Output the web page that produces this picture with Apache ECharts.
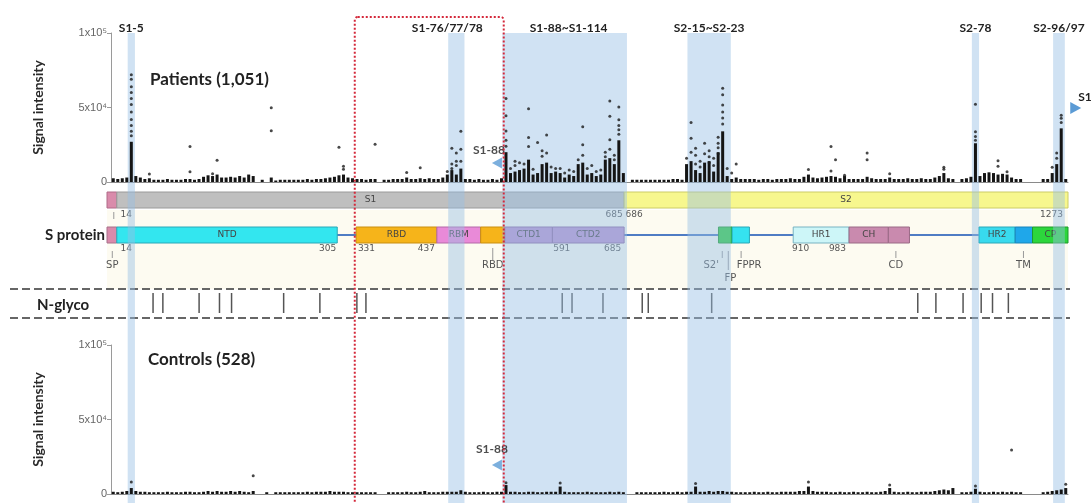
<!DOCTYPE html>
<html><head><meta charset="utf-8">
<script src="https://cdn.jsdelivr.net/npm/echarts@6/dist/echarts.min.js"></script>
<style>html,body{margin:0;padding:0;background:#fff}#c{width:1091px;height:503px}</style>
</head><body><div id="c"></div>
<script>
// ---------------- DATA ----------------
const s1Count = 114, s2Count = 98;
const categories = [];
for (let i = 1; i <= s1Count; i++) categories.push('S1-' + i);
for (let i = 1; i <= s2Count; i++) categories.push('S2-' + i);

const yTickLabels = {0: '0', 50000: '5x10⁴', 100000: '1x10⁵'};

// dense column height per peptide (patients)
const patientStack = [
 2500,2000,2500,3000,27000,4000,3000,2000,2500,1500,
 1500,1500,2000,1500,1500,1500,2000,2000,1500,2000,
 3500,4500,4000,5000,3000,3000,3500,3000,4000,3000,
 5000,4000,0,1500,0,3000,1000,1500,1500,1500,
 1500,1500,1500,2000,1500,2000,2000,2500,3000,3500,
 4500,5000,3000,2500,2000,2000,1500,2000,2000,0,
 1500,1500,2000,2000,2000,3000,2000,2000,2500,2000,
 2500,2000,2000,3000,5000,8000,5000,9000,2000,2000,
 1500,2000,1500,1500,2000,1500,2500,20000,6000,7000,
 8000,9000,15000,5000,6000,12000,13000,6000,7000,6000,
 3000,5000,4000,12000,13000,5000,6000,4000,5000,15000,
 16000,12000,28000,6000,0,1500,1500,1500,1500,1500,
 1500,1500,1500,1500,2000,2000,1500,12000,14000,8000,
 6000,13000,14000,7000,20000,34000,4000,2000,3000,2000,
 2000,2000,2000,1500,2000,2000,1500,2000,2000,2000,
 2500,2000,2000,3500,5000,3000,2500,3000,3500,4000,
 3500,2500,4000,2000,2000,2000,2000,3500,2500,2000,
 2000,2000,3000,2000,2000,2000,2500,2000,2000,2500,
 2000,2000,3000,4000,6000,2500,2000,0,2000,2500,
 3500,26000,4000,6000,6500,6000,5000,5500,5000,3000,
 2000,2000,0,0,0,0,2000,2000,6000,12000,36000,2000
];
// scattered individual points (patients)
const patientOutliers = [
 ['S1-5',72000],['S1-5',69000],['S1-5',64000],['S1-5',60000],['S1-5',56000],['S1-5',52000],
 ['S1-5',47000],['S1-5',42000],['S1-5',38000],['S1-5',34000],['S1-5',31000],
 ['S1-9',5300],['S1-18',23800],['S1-18',6800],['S1-23',5500],['S1-24',14600],
 ['S1-36',49900],['S1-36',34400],['S1-51',23400],['S1-52',10600],['S1-52',8600],
 ['S1-59',25400],['S1-66',6400],['S1-69',9500],
 ['S1-75',7000],['S1-76',22700],['S1-76',12000],['S1-76',9000],['S1-77',19400],['S1-77',11000],['S1-77',14000],
 ['S1-78',34000],['S1-78',22000],['S1-78',14000],
 ['S1-88',56000],['S1-88',44400],['S1-88',34200],['S1-88',28000],['S1-88',24000],
 ['S1-89',9000],['S1-90',11000],['S1-90',14000],['S1-91',13000],['S1-92',12000],
 ['S1-93',49200],['S1-93',29800],['S1-93',23800],['S1-94',8500],
 ['S1-95',26500],['S1-96',17200],['S1-96',21000],['S1-97',31600],['S1-97',19400],
 ['S1-98',10000],['S1-99',9000],['S1-100',9000],['S1-101',6000],['S1-102',8000],['S1-103',7000],
 ['S1-104',15000],['S1-105',37100],['S1-105',25000],['S1-105',18000],
 ['S1-106',9000],['S1-107',11000],['S1-108',7000],['S1-109',8000],
 ['S1-110',20000],['S1-110',17000],['S1-111',54300],['S1-111',44200],['S1-111',28300],['S1-111',22000],
 ['S1-112',18000],['S1-112',15000],
 ['S1-113',50300],['S1-113',41700],['S1-113',38000],['S1-113',35000],['S1-113',32000],
 ['S2-14',16000],['S2-15',39900],['S2-15',29300],['S2-15',20000],['S2-16',22700],['S2-16',18000],['S2-16',12000],
 ['S2-17',10000],['S2-17',14000],['S2-18',26000],['S2-18',19000],['S2-19',21000],['S2-19',17000],['S2-19',13000],
 ['S2-20',16000],['S2-20',11000],['S2-21',30000],['S2-21',26000],['S2-21',23000],['S2-21',19000],
 ['S2-22',62900],['S2-22',58500],['S2-22',51600],['S2-22',47000],['S2-22',43000],['S2-22',39000],
 ['S2-23',9000],['S2-24',6000],
 ['S2-25',12100],['S2-41',8400],['S2-46',23800],['S2-46',7300],['S2-47',15000],['S2-49',4600],
 ['S2-54',19400],['S2-54',15000],['S2-59',5500],['S2-71',9900],['S2-71',8600],
 ['S2-78',52100],['S2-78',33800],['S2-78',30500],['S2-78',28000],
 ['S2-83',14300],['S2-83',10600],['S2-85',6800],['S2-95',9900],
 ['S2-96',19400],['S2-96',16000],['S2-97',44800],['S2-97',42800],['S2-97',40000]
];
// dense column height per peptide (controls)
const controlStack = [
 1500,1200,1500,2000,4000,2000,1500,1500,1200,1200,
 1200,1200,1500,1200,1200,1200,1500,1500,1200,1200,
 1500,2000,1500,2000,1500,1500,2000,1500,2000,1500,
 1200,2000,0,0,1200,0,1200,1200,1200,1200,
 1200,1200,1200,1500,1200,1500,1500,1500,2000,1500,
 1500,1500,1200,1200,1200,1200,1200,1200,1200,0,
 0,1200,1200,1200,1200,1500,1200,1200,1500,2000,
 1200,1200,1200,1500,1500,1500,1500,2500,1500,1200,
 1200,1200,1500,1200,1200,1500,1500,6000,1500,1500,
 1200,1200,1500,1500,1200,1200,1500,1500,1500,5000,
 1500,1200,1200,1200,1200,1500,1200,1200,1200,1200,
 1500,1200,1500,1200,0,0,1200,1200,1200,1200,
 1200,1200,1500,1200,1200,1500,1200,1500,1500,5000,
 1500,1500,2000,1500,2000,2000,1500,1500,1200,1200,
 1200,1200,1500,1200,1200,1500,1200,1200,1500,1500,
 1500,1500,2000,2000,5000,2000,1500,1500,1500,1200,
 1200,1500,1200,1200,1500,1200,1200,1500,1200,1200,
 1500,2000,4000,1500,1200,1200,1500,1200,1200,1500,
 1500,1500,2000,2500,3000,2500,4000,0,1200,1200,
 1500,3500,1500,1200,1200,1500,1200,1500,1200,1500,
 1200,1200,0,0,0,0,1200,1500,2000,2500,3000,4000
];
const controlOutliers = [
 ['S1-5',8000],['S1-32',12300],['S1-88',7600],['S1-100',7300],['S2-16',7000],
 ['S2-41',8000],['S2-59',6000],['S2-78',5300],['S2-86',29500],['S2-98',6500]
];
// highlighted peptide ranges [label, first peptide #, last peptide #] (1-based overall index)
const highlightBands = [
 ['S1-5', 5, 5], ['S1-76/77/78', 76, 78], ['S1-88~S1-114', 88, 114],
 ['S2-15~S2-23', 129, 137], ['S2-78', 192, 192], ['S2-96/97', 210, 211]
];
const rbdBox = [55, 87];
// S protein schematic (amino-acid positions)
const subunits = [['SP', '', 1, 13], ['S1', 'S1', 14, 685], ['S2', 'S2', 686, 1273]];
const domains = [
 ['SP','',1,13], ['NTD','NTD',14,305], ['RBD','RBD',331,437], ['RBM','RBM',438,495],
 ['RBD2','',496,527], ['CTD1','CTD1',528,590], ['CTD2','CTD2',591,685],
 ['FP','',811,828], ['FPPR','',829,851], ['HR1','HR1',910,983], ['CH','CH',984,1035],
 ['CH2','',1036,1063], ['HR2','HR2',1156,1203], ['TM','',1204,1226], ['CP','CP',1227,1273]
];
const positionLabels = [
 ['14',14,'upper'], ['685 686',685,'upper'], ['1273',1273,'upper'],
 ['14',14,'lower'], ['305',305,'lower'], ['331',331,'lower'], ['437',437,'lower'],
 ['591',591,'lower'], ['685',685,'lower'], ['910',910,'lower'], ['983',983,'lower']
];
const features = [['SP',7], ['RBD',511], ["S2'",815], ['FP',823], ['FPPR',840], ['CD',1045], ['TM',1214]];
const glycoSites = [61,74,122,149,165,234,282,331,343,603,616,657,709,717,801,1074,1098,1134,1158,1173,1194];

// ---------------- STYLE / LAYOUT ----------------
const subunitStyle = {SP:['#d98bab','#b06a88'], S1:['#bfbfbf','#9a9a9a'], S2:['#f7f78e','#cccc66']};
const domainStyle = {
 SP:['#d98bab','#a8708a'], NTD:['#33e6ef','#2aa8b8'], RBD:['#f6b41a','#c98e10'], RBM:['#e98ad8','#b468a8'],
 RBD2:['#f6b41a','#c98e10'], CTD1:['#bb92d0','#8d6aa2'], CTD2:['#bb92d0','#8d6aa2'],
 FP:['#2ccd3d','#1f9a2c'], FPPR:['#35e2f0','#2aa8b8'], HR1:['#cdf6f8','#78b3c2'], CH:['#c98aae','#9a6a86'],
 CH2:['#c98aae','#9a6a86'], HR2:['#38daee','#2aa8b8'], TM:['#1fa7ea','#1884ba'], CP:['#2cd63c','#1f9a2c']
};
const posAlign = {'14':'left','305':'right','331':'left','437':'right','591':'left','685':'right','910':'left','983':'right','685 686':'center','1273':'right'};
const posDx = {'14':3,'305':-1,'331':1,'437':-2,'591':0,'685':-3,'910':-2,'983':-3,'685 686':0,'1273':-5};
const featLayout = {"S2'":{dx:-11,row:75,tick:[61,68]}, FP:{dx:2,row:88,tick:[61,80]}, FPPR:{dx:8,row:75,tick:[61,68]}, RBD:{dx:0,row:75,tick:[58,70]}};
const bandLabelDx = {'S1-76/77/78': -9, 'S1-88~S1-114': 4};
const ROW = {barTop:2, barBot:18, upLab:25, protTop:37, protBot:53, protMid:45, lowLab:59, dash1:99, dash2:128, glyTop:103, glyBot:123};
const BAND_TOP = 33, BAND_BOT = 503, BAND_LABEL_Y = 28;

const smallFont = '9px "DejaVu Sans"';
const boldFont = 'bold 12px Lato';

const chart = echarts.init(document.getElementById('c'), null, {renderer:'canvas'});

function yAxisCfg(gi){
  return {gridIndex:gi, type:'value', min:0, max:100000, interval:50000,
    name:'Signal intensity', nameLocation:'middle', nameGap:66,
    nameTextStyle:{fontFamily:'Lato', fontWeight:'bold', fontSize:14, color:'#2a2a2a'},
    axisLine:{show:true, lineStyle:{color:'#9a9a9a'}}, axisTick:{show:true, length:4, lineStyle:{color:'#9a9a9a'}},
    splitLine:{show:false},
    axisLabel:{formatter:v => yTickLabels[v] || '', color:'#666', fontSize:11, fontFamily:'Liberation Sans', margin:4}};
}
function xCatCfg(gi){
  return {gridIndex:gi, type:'category', data:categories, boundaryGap:true,
    axisLine:{lineStyle:{color:'#8a8a8a'}}, axisTick:{interval:0, length:6, lineStyle:{color:'#b0b0b0'}},
    axisLabel:{show:false}, splitLine:{show:false}};
}
const txt = (text, x, y, font, fill, align, valign) => ({type:'text', style:{text, x, y, font, fill, textAlign:align||'center', textVerticalAlign:valign||'middle'}});

const series = [];
// schematic background: cream, protein line, dashed separators
series.push({type:'custom', xAxisIndex:2, yAxisIndex:2, z:1, silent:true, data:[[0,0]],
  renderItem(p, api){
    const a = api.coord([0, 20]), b = api.coord([1273, ROW.dash2]);
    const l0 = api.coord([14, ROW.protMid]), l1 = api.coord([1273, ROW.protMid]);
    const d1 = api.coord([1273, ROW.dash1]), d2 = api.coord([1273, ROW.dash2]);
    return {type:'group', children:[
      {type:'rect', shape:{x:a[0], y:a[1], width:b[0]-a[0], height:ROW.dash1-20}, style:{fill:'#fdfbf1'}},
      {type:'line', shape:{x1:l0[0], y1:l0[1], x2:l1[0], y2:l1[1]}, style:{stroke:'#4f7cc4', lineWidth:2}},
      {type:'line', shape:{x1:10, y1:d1[1], x2:d1[0]+2, y2:d1[1]}, style:{stroke:'#666', lineWidth:2, lineDash:[8,4]}},
      {type:'line', shape:{x1:10, y1:d2[1], x2:d2[0]+2, y2:d2[1]}, style:{stroke:'#666', lineWidth:2, lineDash:[8,4]}}
    ]};
  }});
// S1 / S2 subunit bar
series.push({type:'custom', xAxisIndex:2, yAxisIndex:2, z:1, silent:true, data:subunits.map(s => [s[2], s[3]]),
  renderItem(p, api){
    const s = subunits[p.dataIndex];
    const p0 = api.coord([s[2]-1, ROW.barTop]), p1 = api.coord([s[3], ROW.barBot]);
    const st = subunitStyle[s[0]];
    const ch = [{type:'rect', shape:{x:p0[0], y:p0[1], width:p1[0]-p0[0], height:p1[1]-p0[1]}, style:{fill:st[0], stroke:st[1], lineWidth:1}}];
    if (s[1]) ch.push(txt(s[1], (p0[0]+p1[0])/2, (p0[1]+p1[1])/2, smallFont, '#444'));
    return {type:'group', children:ch};
  }});
// domains
series.push({type:'custom', xAxisIndex:2, yAxisIndex:2, z:1, silent:true, data:domains.map(d => [d[2], d[3]]),
  renderItem(p, api){
    const d = domains[p.dataIndex];
    const p0 = api.coord([d[2]-1, ROW.protTop]), p1 = api.coord([d[3], ROW.protBot]);
    const st = domainStyle[d[0]];
    const ch = [{type:'rect', shape:{x:p0[0], y:p0[1], width:p1[0]-p0[0], height:p1[1]-p0[1]}, style:{fill:st[0], stroke:st[1], lineWidth:1}}];
    if (d[1]) ch.push(txt(d[1], (p0[0]+p1[0])/2, (p0[1]+p1[1])/2, smallFont, '#444'));
    return {type:'group', children:ch};
  }});
// amino-acid position numbers
series.push({type:'custom', xAxisIndex:2, yAxisIndex:2, z:1, silent:true, data:positionLabels.map(l => [l[1], 0]),
  renderItem(p, api){
    const l = positionLabels[p.dataIndex];
    const row = l[2] === 'upper' ? ROW.upLab : ROW.lowLab;
    const c = api.coord([l[1], row]);
    const ch = [txt(l[0], c[0] + posDx[l[0]], c[1], smallFont, '#555', posAlign[l[0]])];
    if (l[2] === 'upper' && l[0] === '14') {
      const t = api.coord([9, 22]), t2 = api.coord([9, 29]);
      ch.push({type:'line', shape:{x1:t[0], y1:t[1], x2:t2[0], y2:t2[1]}, style:{stroke:'#999', lineWidth:1}});
    }
    return {type:'group', children:ch};
  }});
// feature markers
series.push({type:'custom', xAxisIndex:2, yAxisIndex:2, z:1, silent:true, data:features.map(f => [f[1], 0]),
  renderItem(p, api){
    const f = features[p.dataIndex];
    const lay = featLayout[f[0]] || {dx:0, row:75, tick:[61,68]};
    const t0 = api.coord([f[1], lay.tick[0]]), t1 = api.coord([f[1], lay.tick[1]]);
    const lc = api.coord([f[1], lay.row]);
    return {type:'group', children:[
      {type:'line', shape:{x1:t0[0], y1:t0[1], x2:t1[0], y2:t1[1]}, style:{stroke:'#999', lineWidth:1}},
      txt(f[0], lc[0] + lay.dx, lc[1], '10px "DejaVu Sans"', '#555')
    ]};
  }});
// N-glycosylation sites
series.push({type:'custom', xAxisIndex:2, yAxisIndex:2, z:1, silent:true, data:glycoSites.map(g => [g, 0]),
  renderItem(p, api){
    const a = api.coord([api.value(0), ROW.glyTop]), b = api.coord([api.value(0), ROW.glyBot]);
    return {type:'line', shape:{x1:a[0], y1:a[1], x2:b[0], y2:b[1]}, style:{stroke:'#555', lineWidth:1.5}};
  }});
// highlight bands
series.push({type:'custom', xAxisIndex:3, yAxisIndex:3, z:2, silent:true, data:highlightBands.map(b => [b[1], b[2]]),
  renderItem(p, api){
    const b = highlightBands[p.dataIndex];
    const a = api.coord([b[1]-1.3, BAND_TOP]), e = api.coord([b[2]+0.3, BAND_BOT]);
    return {type:'group', children:[
      {type:'rect', shape:{x:a[0], y:a[1], width:e[0]-a[0], height:e[1]-a[1]}, style:{fill:'rgba(150,190,228,0.45)'}},
      txt(b[0], (a[0]+e[0])/2 + (bandLabelDx[b[0]] || 0), BAND_LABEL_Y, boldFont, '#222')
    ]};
  }});
// patients
series.push({type:'bar', xAxisIndex:0, yAxisIndex:0, z:3, data:patientStack, barWidth:3, itemStyle:{color:'#151515'}, silent:true});
series.push({type:'scatter', xAxisIndex:0, yAxisIndex:0, z:4, data:patientOutliers, symbolSize:3, itemStyle:{color:'#1a1a1a'}, silent:true});
// controls
series.push({type:'bar', xAxisIndex:1, yAxisIndex:1, z:3, data:controlStack, barWidth:3, itemStyle:{color:'#151515'}, silent:true});
series.push({type:'scatter', xAxisIndex:1, yAxisIndex:1, z:4, data:controlOutliers, symbolSize:3, itemStyle:{color:'#1a1a1a'}, silent:true});
// S1-88 arrows
const arrowLabel = {show:true, formatter:'S1-88', position:'top', distance:1, offset:[-8,0], fontFamily:'Lato', fontWeight:'bold', fontSize:12, color:'#222'};
series.push({type:'scatter', xAxisIndex:0, yAxisIndex:0, z:5, data:[['S1-86', 12750]], symbol:'triangle', symbolSize:[11,10], symbolRotate:90, itemStyle:{color:'#5b9bd5'}, label:arrowLabel, silent:true});
series.push({type:'scatter', xAxisIndex:1, yAxisIndex:1, z:5, data:[['S1-86', 19500]], symbol:'triangle', symbolSize:[11,10], symbolRotate:90, itemStyle:{color:'#5b9bd5'}, label:Object.assign({}, arrowLabel, {distance:4, offset:[-5,0]}), silent:true});
// red dotted box + right-edge arrow
series.push({type:'custom', xAxisIndex:3, yAxisIndex:3, z:6, silent:true, data:[rbdBox],
  renderItem(p, api){
    const a = api.coord([rbdBox[0]-1, 17]), e = api.coord([rbdBox[1], 510]);
    const r = api.coord([213.6, 108]);
    return {type:'group', children:[
      {type:'rect', shape:{x:a[0], y:a[1], width:e[0]-a[0], height:e[1]-a[1], r:3}, style:{fill:'none', stroke:'#d4293b', lineWidth:2, lineDash:[2,2]}},
      {type:'polygon', shape:{points:[[r[0]-5, r[1]-6],[r[0]+6, r[1]],[r[0]-5, r[1]+6]]}, style:{fill:'#5b9bd5'}},
      txt('S1-88', r[0]+3, r[1]-11, boldFont, '#222', 'left')
    ]};
  }});

chart.setOption({
  animation:false,
  grid:[
    {left:111, right:23, top:33, height:149},
    {left:111, right:23, top:345, height:149},
    {left:107, right:23, top:190, height:130},
    {left:111, right:23, top:0, height:503}
  ],
  xAxis:[xCatCfg(0), xCatCfg(1),
    {gridIndex:2, type:'value', min:0, max:1273, show:false},
    {gridIndex:3, type:'value', min:0, max:212, show:false}],
  yAxis:[yAxisCfg(0), yAxisCfg(1),
    {gridIndex:2, type:'value', min:0, max:130, inverse:true, show:false},
    {gridIndex:3, type:'value', min:0, max:503, inverse:true, show:false}],
  graphic:[
    {type:'text', x:150, y:80, style:{text:'Patients (1,051)', font:'bold 17px Lato', fill:'#222', textAlign:'left', textVerticalAlign:'middle'}},
    {type:'text', x:148, y:360, style:{text:'Controls (528)', font:'bold 17px Lato', fill:'#222', textAlign:'left', textVerticalAlign:'middle'}},
    {type:'text', x:105, y:235, style:{text:'S protein', font:'bold 15px Lato', fill:'#222', textAlign:'right', textVerticalAlign:'middle'}},
    {type:'text', x:37, y:305, style:{text:'N-glyco', font:'bold 15px Lato', fill:'#222', textAlign:'left', textVerticalAlign:'middle'}}
  ],
  series
});
</script></body></html>
